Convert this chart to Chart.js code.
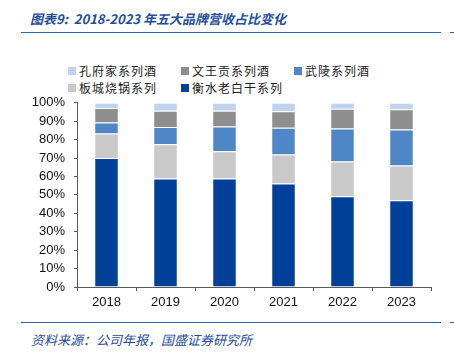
<!DOCTYPE html>
<html>
<head>
<meta charset="utf-8">
<script src="https://cdn.jsdelivr.net/npm/chart.js@4"></script>
<style>
  body { margin: 0; width: 454px; height: 353px; background: #fff; position: relative; overflow: hidden; font-family: "Noto Sans CJK SC", sans-serif; }
  .title { position: absolute; left: 30px; top: 9px; font-size: 13px; font-style: italic; font-weight: bold; color: #1F4E9A; white-space: nowrap; }
  .rule { position: absolute; left: 21px; width: 420px; height: 1px; background: #2E64B4; }
  .rule2 { position: absolute; left: 450px; width: 4px; height: 1px; background: #2E64B4; }
  .legend { position: absolute; left: 68px; top: 62px; display: grid; grid-template-columns: 113px 113px 113px; row-gap: 0px; font-size: 12px; color: #222; letter-spacing: 1px; }
  .legend div { display: flex; align-items: center; height: 17px; white-space: nowrap; }
  .legend span.box { width: 8px; height: 8px; margin-right: 3px; display: inline-block; }
  .source { position: absolute; left: 31px; top: 330px; font-size: 13px; font-style: italic; color: #1F4E9A; white-space: nowrap; }
  #wrap { position: absolute; left: 0; top: 86px; width: 454px; height: 231px; }
</style>
</head>
<body>
<div class="title">图表9:&nbsp; 2018-2023 年五大品牌营收占比变化</div>
<div class="rule" style="top:32px"></div><div class="rule2" style="top:32px"></div>
<div class="legend" id="legend"></div>
<div id="wrap"><canvas id="c"></canvas></div>
<div class="rule" style="top:322px"></div><div class="rule2" style="top:322px"></div>
<div class="source">资料来源：公司年报，国盛证券研究所</div>
<script>
const years = ['2018', '2019', '2020', '2021', '2022', '2023'];
const hengshui = [70.0, 58.9, 58.9, 56.2, 49.2, 47.1];
const bancheng = [13.4, 18.6, 14.8, 15.7, 19.0, 18.8];
const wuling = [5.9, 9.3, 13.4, 14.5, 17.8, 19.6];
const wenwang = [7.9, 8.9, 8.6, 9.0, 10.8, 11.0];
const kongfu = [2.8, 4.3, 4.3, 4.6, 3.2, 3.5];

const series = [
    { label: '衡水老白干系列', data: hengshui, color: '#004098' },
    { label: '板城烧锅系列', data: bancheng, color: '#C9C9C9' },
    { label: '武陵系列酒', data: wuling, color: '#4F86C6' },
    { label: '文王贡系列酒', data: wenwang, color: '#8E8E8E' },
    { label: '孔府家系列酒', data: kongfu, color: '#BFD3EE' },
];

// legend order follows the picture
const legendOrder = ['孔府家系列酒', '文王贡系列酒', '武陵系列酒', '板城烧锅系列', '衡水老白干系列'];
const legendEl = document.getElementById('legend');
legendOrder.forEach(name => {
    const s = series.find(d => d.label === name);
    const item = document.createElement('div');
    item.innerHTML = `<span class="box" style="background:${s.color}"></span>${s.label}`;
    legendEl.appendChild(item);
});

const axisColor = '#595959';
const tickFont = { family: '"Liberation Sans", Arial, sans-serif', size: 13 };

new Chart(document.getElementById('c'), {
    type: 'bar',
    data: {
        labels: years,
        datasets: series.map(s => ({
            label: s.label,
            data: s.data,
            backgroundColor: s.color,
            borderColor: 'rgba(255,255,255,0.55)',
            borderWidth: 1,
            categoryPercentage: 0.83,
            barPercentage: 0.5,
        })),
    },
    options: {
        responsive: true,
        maintainAspectRatio: false,
        animation: false,
        layout: { padding: { top: 2, right: 23, left: 0, bottom: 0 } },
        plugins: { legend: { display: false }, tooltip: { enabled: false } },
        scales: {
            x: {
                stacked: true,
                afterFit: (scale) => { scale.height = 30; },
                grid: { display: true, drawOnChartArea: false, tickLength: 4, color: axisColor },
                border: { color: axisColor, width: 1 },
                ticks: { color: '#111', font: tickFont, padding: 4 },
            },
            y: {
                stacked: true,
                min: 0,
                max: 100,
                afterFit: (scale) => { scale.width = 77; },
                grid: { display: true, drawOnChartArea: false, tickLength: 3, color: axisColor },
                border: { color: axisColor, width: 1 },
                ticks: {
                    stepSize: 10,
                    autoSkip: false,
                    color: '#111',
                    font: tickFont,
                    padding: 9,
                    callback: (v) => v + '%',
                },
            },
        },
    },
});
</script>
</body>
</html>
